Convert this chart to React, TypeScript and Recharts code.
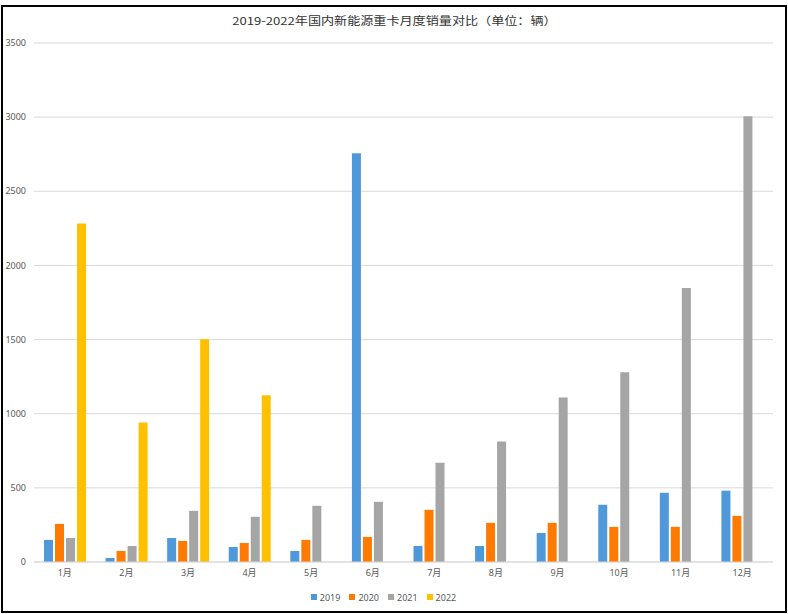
import React from 'react';
import { BarChart, Bar, XAxis, YAxis, CartesianGrid, Legend } from 'recharts';

const months = ['1月', '2月', '3月', '4月', '5月', '6月', '7月', '8月', '9月', '10月', '11月', '12月'];
const sales2019 = [149, 27, 162, 101, 74, 2756, 108, 108, 196, 386, 467, 481];
const sales2020 = [257, 74, 142, 128, 149, 169, 352, 264, 264, 237, 237, 311];
const sales2021 = [162, 108, 345, 305, 379, 406, 670, 812, 1110, 1280, 1848, 3006];
const sales2022 = [2282, 941, 1503, 1124, 0, 0, 0, 0, 0, 0, 0, 0];
const yTicks = [0, 500, 1000, 1500, 2000, 2500, 3000, 3500];

const SERIES = [
  { key: 'y2019', name: '2019', color: '#4F98DA' },
  { key: 'y2020', name: '2020', color: '#FF7A00' },
  { key: 'y2021', name: '2021', color: '#A5A5A5' },
  { key: 'y2022', name: '2022', color: '#FFC000' },
];

const data = months.map((m, i) => ({
  month: m,
  y2019: sales2019[i],
  y2020: sales2020[i],
  y2021: sales2021[i],
  y2022: sales2022[i],
}));

const FONT = '"Noto Sans", "Noto Sans CJK SC", sans-serif';

const LegendContent = () => (
  <div style={{ display: 'flex', justifyContent: 'center', height: 20, alignItems: 'center', fontSize: 9, color: '#595959', fontFamily: FONT }}>
    {SERIES.map((s) => (
      <span key={s.key} style={{ display: 'flex', alignItems: 'center', marginRight: 9 }}>
        <span style={{ width: 6, height: 6, background: s.color, marginRight: 3 }} />
        {s.name}
      </span>
    ))}
  </div>
);

export default function App() {
  return (
    <div
      style={{
        position: 'absolute',
        left: 1,
        top: 5,
        width: 786,
        height: 608,
        border: '2px solid #000',
        boxSizing: 'border-box',
        background: '#fff',
        fontFamily: FONT,
      }}
    >
      <div
        style={{
          position: 'absolute',
          top: 5,
          left: 0,
          width: '100%',
          textAlign: 'center',
          fontSize: 11,
          color: '#333',
          fontFamily: '"Noto Sans CJK SC", sans-serif',
          transform: 'scaleX(1.19)',
          transformOrigin: '389px 0',
        }}
      >
        2019-2022年国内新能源重卡月度销量对比（单位：辆）
      </div>
      <BarChart
        width={782}
        height={604}
        data={data}
        margin={{ top: 36, right: 12, left: 0, bottom: 9 }}
        barGap={2}
        barSize={9}
      >
        <CartesianGrid vertical={false} stroke="#D9D9D9" />
        <XAxis
          dataKey="month"
          height={20}
          tickLine={false}
          tickSize={0}
          tickMargin={8}
          axisLine={{ stroke: '#D9D9D9' }}
          tick={{ fontSize: 9, fill: '#595959', fontFamily: FONT }}
          interval={0}
        />
        <YAxis
          width={31}
          domain={[0, 3500]}
          ticks={yTicks}
          axisLine={false}
          tickLine={false}
          tickSize={0}
          tickMargin={8}
          tick={{ fontSize: 9, fill: '#595959', fontFamily: FONT }}
        />
        <Legend verticalAlign="bottom" content={<LegendContent />} wrapperStyle={{ bottom: 4 }} />
        {SERIES.map((s) => (
          <Bar key={s.key} dataKey={s.key} name={s.name} fill={s.color} isAnimationActive={false} />
        ))}
      </BarChart>
    </div>
  );
}
